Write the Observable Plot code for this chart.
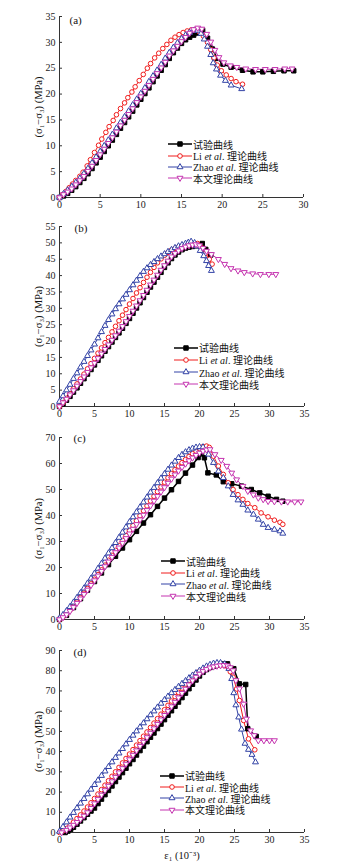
<!DOCTYPE html>
<html><head><meta charset="utf-8">
<script src="https://cdn.jsdelivr.net/npm/d3@7"></script>
<script src="https://cdn.jsdelivr.net/npm/@observablehq/plot@0.6"></script>
<style>
body{margin:0;background:#fff;}
#wrap{position:relative;width:364px;height:868px;overflow:hidden;}
#wrap > svg{display:block;}
.legend{position:absolute;font-family:"Liberation Serif","Noto Sans CJK SC",serif;font-size:10px;color:#111;}
.row{display:flex;align-items:center;white-space:nowrap;}
.row svg{flex:none;margin-right:1px;}
</style></head><body><div id="wrap"></div>
<script>
// ---------- tick labels ----------
const xTicksA = [0,5,10,15,20,25,30];
const xTicksB = [0,5,10,15,20,25,30,35];
const yTicksA = [0,5,10,15,20,25,30,35];
const yTicksB = [0,5,10,15,20,25,30,35,40,45,50,55];
const yTicksC = [0,10,20,30,40,50,60,70];
const yTicksD = [0,10,20,30,40,50,60,70,80,90];
const panelLabels = ["(a)","(b)","(c)","(d)"];
const yLabel = "(σ₁−σ₃) (MPa)";
const xLabel = "ε₁ (10⁻³)";
const seriesNames = ["试验曲线","Li <i>et al</i>. 理论曲线","Zhao <i>et al</i>. 理论曲线","本文理论曲线"];

// ---------- panel (a) ----------
const a_exp = [[0,0],[0.5,0.3],[1,0.8],[1.5,1.4],[2,2.1],[2.5,2.9],[3,3.7],[3.5,4.6],[4,5.6],[4.5,6.7],[5,7.8],[5.5,8.9],[6,10],[6.5,11.1],[7,12.2],[7.5,13.4],[8,14.5],[8.5,15.6],[9,16.7],[9.5,17.9],[10,19],[10.5,20.1],[11,21.2],[11.5,22.4],[12,23.5],[12.5,24.6],[13,25.7],[13.5,26.9],[14,28],[14.5,28.9],[15,29.8],[15.5,30.5],[16,31],[16.5,31.4],[17,31.8],[17.6,32.3],[18.2,30.8],[18.8,28.7],[19.4,26.9],[20.1,25.8],[21.1,25.2],[22.5,24.6],[23.8,24.3],[25,24.3],[26.3,24.4],[27.6,24.5],[28.8,24.5]];
const a_li = [[0,0],[0.4,0.6],[0.8,1.2],[1.2,1.9],[1.6,2.6],[2,3.3],[2.5,4.1],[2.9,4.9],[3.4,6.1],[3.8,7.3],[4.3,8.7],[4.8,10.1],[5.2,11.3],[5.7,12.6],[6.1,13.7],[6.6,14.9],[7,16],[7.5,17.2],[8,18.3],[8.4,19.3],[8.9,20.4],[9.3,21.4],[9.8,22.6],[10.3,23.8],[10.8,25],[11.2,25.9],[11.7,27],[12.2,27.9],[12.7,28.8],[13.2,29.6],[13.7,30.4],[14.2,31],[14.7,31.5],[15.2,31.9],[15.7,32.2],[16.2,32.4],[16.7,32.4],[17.2,32],[17.7,31.2],[18.2,30],[18.6,28.6],[19,27],[19.4,25.6],[19.9,24.5],[20.5,23.7],[21.1,23],[21.7,22.4],[22.5,21.9]];
const a_zhao = [[0,0],[0.5,0.7],[1,1.4],[1.5,2.1],[2,2.9],[2.5,3.7],[3,4.6],[3.5,5.6],[4,6.7],[4.5,7.8],[5,8.9],[5.5,10],[6,11.1],[6.5,12.2],[7,13.4],[7.5,14.5],[8,15.6],[8.5,16.7],[9,17.9],[9.5,19],[10,20.1],[10.5,21.2],[11,22.4],[11.5,23.5],[12,24.6],[12.5,25.7],[13,26.9],[13.5,28],[14,29],[14.5,29.9],[15,30.7],[15.5,31.4],[16,31.9],[16.5,32.3],[17,32.3],[17.4,31.7],[17.8,30.6],[18.2,29.2],[18.6,27.6],[18.9,26],[19.3,24.8],[19.8,23.6],[20.4,22.6],[21.1,21.7],[22.4,21]];
const a_this = [[0,0],[0.5,0.6],[1,1.1],[1.5,1.7],[2,2.5],[2.5,3.3],[3,4.1],[3.5,5.1],[4,6.1],[4.5,7.2],[5,8.3],[5.5,9.4],[6,10.5],[6.5,11.6],[7,12.7],[7.5,13.9],[8,15],[8.5,16.1],[9,17.2],[9.5,18.4],[10,19.5],[10.5,20.6],[11,21.7],[11.5,22.9],[12,24],[12.5,25.1],[13,26.2],[13.5,27.4],[14,28.4],[14.5,29.3],[15,30.2],[15.5,31],[16,31.8],[16.5,32.5],[17,32.8],[17.5,32.6],[18.1,31.6],[18.6,30.1],[19.1,28.5],[19.6,27.1],[20.2,26.1],[21,25.5],[21.8,25.2],[22.9,24.9],[24.1,24.8],[25.3,24.8],[26.5,24.8],[27.7,24.9],[28.6,24.9]];

// ---------- panel (b) ----------
const b_exp = [[0,0],[0.5,0.8],[1,1.9],[1.5,3.1],[2,4.4],[2.5,5.7],[3,7.1],[3.5,8.5],[4,9.9],[4.5,11.3],[5,12.7],[5.5,14.1],[6,15.5],[6.5,16.9],[7,18.3],[7.5,19.7],[8,21.1],[8.5,22.5],[9,23.9],[9.5,25.4],[10,26.9],[10.5,28.5],[11,30.1],[11.5,31.7],[12,33.3],[12.5,34.9],[13,36.5],[13.5,38],[14,39.5],[14.5,41],[15,42.5],[15.5,43.9],[16,45.2],[16.5,46.3],[17,47.2],[17.5,47.9],[18,48.4],[18.5,48.7],[19,48.9],[19.5,49.1],[20,49.4],[20.4,49.8],[20.9,48],[21.6,46.3]];
const b_li = [[0,0],[0.5,1.2],[1,2.5],[1.5,3.9],[2,5.4],[2.5,6.9],[3,8.4],[3.5,9.9],[4,11.5],[4.5,13.1],[5,14.7],[5.5,16.3],[6,17.9],[6.5,19.5],[7,21.1],[7.5,22.8],[8,24.5],[8.5,26.2],[9,27.9],[9.5,29.6],[10,31.3],[10.5,33],[11,34.7],[11.5,36.3],[12,37.9],[12.5,39.5],[13,41],[13.5,42.5],[14,43.9],[14.5,45.1],[15,46.2],[15.5,47.1],[16,47.8],[16.5,48.3],[17,48.7],[17.5,49],[18,49.2],[18.5,49.4],[19,49.6],[19.7,49.8],[20.3,48.5],[20.9,46.8],[21.4,45],[21.8,43.5]];
const b_zhao = [[0,1.5],[0.5,3.2],[1,5],[1.5,6.7],[2,8.5],[2.5,10.2],[3,12],[3.5,13.7],[4,15.5],[4.5,17.2],[5,19],[5.5,20.9],[6,22.8],[6.5,24.7],[7,26.5],[7.5,28.2],[8,29.8],[8.5,31.3],[9,32.8],[9.5,34.2],[10,35.6],[10.5,37.1],[11,38.5],[11.5,39.9],[12,41.2],[12.5,42.3],[13,43.3],[13.5,44.2],[14,45.1],[14.5,45.9],[15,46.6],[15.5,47.3],[16,47.9],[16.5,48.5],[17,49],[17.5,49.4],[18,49.8],[18.4,50.1],[18.8,50.4],[19.3,50],[19.6,49],[20.1,47.6],[20.6,46],[21,44.5],[21.3,43],[21.7,41.5]];
const b_this = [[0,0],[0.5,1.2],[1,2.3],[1.5,3.6],[2,4.9],[2.5,6.3],[3,7.7],[3.5,9.1],[4,10.5],[4.5,11.9],[5,13.3],[5.5,14.7],[6,16.1],[6.5,17.5],[7,18.9],[7.5,20.3],[8,21.7],[8.5,23.1],[9,24.5],[9.5,26],[10,27.6],[10.5,29.2],[11,30.8],[11.5,32.4],[12,34],[12.5,35.6],[13,37.2],[13.5,38.7],[14,40.2],[14.5,41.7],[15,43.1],[15.5,44.5],[16,45.8],[16.5,46.8],[17,47.6],[17.5,48.3],[18,48.8],[18.5,49.2],[19,49.4],[19.5,49.5],[20,49.2],[20.5,48.4],[21,47.5],[21.7,46.5],[22.7,45],[23.6,43.5],[24.5,42.2],[25.5,41.5],[26.4,41],[27.6,40.6],[28.7,40.4],[29.9,40.4],[30.9,40.4]];

// ---------- panel (c) ----------
const c_exp = [[0,0],[1,1.6],[2,4.6],[3,8],[4,11.3],[5,14.6],[6,17.9],[7,21.1],[8,24.3],[9,27.5],[10,30.7],[11,33.9],[12,37.1],[13,40.3],[14,43.5],[15,46.7],[16,49.9],[17,53.1],[18,56.3],[19,59.4],[19.8,62.3],[20.3,63.7],[20.7,62.2],[21.2,56.4],[22.4,55.6],[23.4,53],[24.6,52.2],[26,51.3],[27.4,50],[28.6,48.7],[29.8,47.4],[31,46.2],[31.9,45.5]];
const c_li = [[0,0],[0.5,1],[1,2.2],[1.5,3.6],[2,5.1],[2.5,6.7],[3,8.4],[3.5,10.1],[4,11.9],[4.5,13.7],[5,15.5],[5.5,17.3],[6,19.1],[6.5,20.9],[7,22.8],[7.5,24.7],[8,26.6],[8.5,28.5],[9,30.4],[9.5,32.3],[10,34.2],[10.5,36.1],[11,38],[11.5,39.9],[12,41.8],[12.5,43.7],[13,45.6],[13.5,47.4],[14,49.2],[14.5,51],[15,52.8],[15.5,54.5],[16,56.1],[16.5,57.6],[17,59],[17.5,60.3],[18,61.5],[18.5,62.7],[19,63.8],[19.5,64.8],[20,65.7],[20.5,66.5],[21,66.7],[21.4,66.2],[22,62.8],[22.7,59],[23.4,55.8],[24.1,52.6],[24.8,50],[25.5,48],[26.2,46.2],[26.9,44.6],[27.9,43],[28.8,41],[29.8,39.5],[30.7,38.2],[31.5,37.4],[31.9,36.6]];
const c_zhao = [[0,0.5],[0.5,1.8],[1,3.3],[1.5,4.9],[2,6.6],[2.5,8.4],[3,10.2],[3.5,12],[4,13.9],[4.5,15.8],[5,17.7],[5.5,19.6],[6,21.5],[6.5,23.5],[7,25.5],[7.5,27.5],[8,29.5],[8.5,31.5],[9,33.5],[9.5,35.5],[10,37.5],[10.5,39.4],[11,41.3],[11.5,43.2],[12,45.1],[12.5,47],[13,48.9],[13.5,50.7],[14,52.5],[14.5,54.3],[15,56],[15.5,57.7],[16,59.3],[16.5,60.8],[17,62.2],[17.5,63.4],[18,64.4],[18.5,65.2],[19,65.8],[19.5,66.2],[20,66.4],[20.5,66.3],[21.3,63.5],[22,60.3],[22.7,57],[23.4,54.5],[24.1,51.3],[24.8,48],[25.5,45.9],[26.2,44.2],[26.9,42],[27.7,40.4],[28.4,38.5],[29.1,36.5],[29.8,35.3],[30.7,34.6],[31.5,34],[31.9,33.1]];
const c_this = [[0,0],[0.5,0.8],[1,1.9],[1.5,3.2],[2,4.7],[2.5,6.3],[3,8],[3.5,9.7],[4,11.4],[4.5,13.2],[5,15],[5.5,16.8],[6,18.6],[6.5,20.4],[7,22.2],[7.5,24],[8,25.8],[8.5,27.6],[9,29.4],[9.5,31.2],[10,33],[10.5,34.8],[11,36.6],[11.5,38.4],[12,40.2],[12.5,42],[13,43.8],[13.5,45.6],[14,47.4],[14.5,49.1],[15,50.8],[15.5,52.5],[16,54.1],[16.5,55.7],[17,57.2],[17.5,58.6],[18,59.9],[18.5,61.1],[19,62.2],[19.5,63.2],[20,64.1],[20.5,64.8],[21,65.3],[21.5,65.4],[22.2,63.5],[23.1,61.3],[23.9,59],[24.6,56.4],[25.3,53.8],[26.2,51.3],[26.9,49.4],[27.7,48],[28.4,46.8],[29.1,46.2],[29.8,45.5],[30.7,45.4],[31.7,45.3],[32.6,45.3],[33.6,45.3],[34.5,45.3]];

// ---------- panel (d) ----------
const d_exp = [[0.8,0],[1.2,0.7],[1.6,1.6],[2,2.6],[2.5,4.1],[3,5.7],[3.5,7.3],[4,9],[4.5,10.6],[5,12.1],[5.5,14.3],[6,16.5],[6.5,18.7],[7,20.8],[7.5,23],[8,25.2],[8.5,27.4],[9,29.6],[9.5,31.8],[10,34],[10.5,36.1],[11,38.3],[11.5,40.5],[12,42.7],[12.5,44.9],[13,47.1],[13.5,49.2],[14,51.4],[14.5,53.6],[15,55.8],[15.5,58],[16,60.2],[16.5,62.4],[17,64.5],[17.5,66.7],[18,68.9],[18.5,71.1],[19,73.3],[19.5,75.4],[20,77.4],[20.5,79.2],[21,80.6],[21.5,81.6],[22,82.3],[22.5,82.8],[23,83.1],[23.5,83.3],[24,83.4],[24.9,81],[25.7,73.5],[26.6,73.2],[26.9,51.3],[28.1,47.5]];
const d_li = [[0,0],[0.5,0.8],[1,2],[1.5,3.5],[2,5.1],[2.5,6.9],[3,8.7],[3.5,10.6],[4,12.6],[4.5,14.7],[5,16.8],[5.5,19],[6,21.2],[6.5,23.4],[7,25.6],[7.5,27.8],[8,30],[8.5,32.2],[9,34.4],[9.5,36.6],[10,38.8],[10.5,41],[11,43.2],[11.5,45.4],[12,47.6],[12.5,49.7],[13,51.9],[13.5,54.1],[14,56.3],[14.5,58.5],[15,60.7],[15.5,62.9],[16,65],[16.5,67.2],[17,69.3],[17.5,71.4],[18,73.4],[18.5,75.3],[19,77],[19.5,78.5],[20,79.7],[20.5,80.7],[21,81.5],[21.5,82.1],[22,82.5],[22.5,82.7],[23,82.8],[23.5,82.7],[24,82],[24.4,79.5],[24.8,76.8],[25.3,71],[25.7,65.3],[26.3,55.4],[27,46.3],[27.9,40.9]];
const d_zhao = [[0,0.5],[0.5,2.8],[1,5.1],[1.5,7.5],[2,9.8],[2.5,12.1],[3,14.4],[3.5,16.7],[4,19],[4.5,21.3],[5,23.6],[5.5,25.8],[6,28.1],[6.5,30.3],[7,32.5],[7.5,34.8],[8,37],[8.5,39.2],[9,41.4],[9.5,43.7],[10,45.9],[10.5,48],[11,50.1],[11.5,52.1],[12,54.1],[12.5,56.1],[13,58.1],[13.5,60],[14,61.9],[14.5,63.8],[15,65.6],[15.5,67.3],[16,69],[16.5,70.6],[17,72.1],[17.5,73.6],[18,75],[18.5,76.4],[19,77.7],[19.5,78.9],[20,80.1],[20.5,81.2],[21,82.2],[21.5,83],[22,83.6],[22.5,83.9],[23,83.9],[23.6,83.3],[24.2,81],[24.6,76],[24.9,69],[25.2,63],[25.6,57],[26,51],[26.5,44],[27,41],[27.5,38.5],[28,34.8]];
const d_this = [[0.3,0],[1,1.2],[1.5,2.4],[2,3.7],[2.5,5.1],[3,6.6],[3.5,8.2],[4,9.9],[4.5,12],[5,14.3],[5.5,16.4],[6,18.6],[6.5,20.8],[7,23],[7.5,25.2],[8,27.4],[8.5,29.6],[9,31.7],[9.5,33.9],[10,36.1],[10.5,38.3],[11,40.5],[11.5,42.7],[12,44.8],[12.5,47],[13,49.2],[13.5,51.4],[14,53.6],[14.5,55.8],[15,58],[15.5,60.1],[16,62.3],[16.5,64.5],[17,66.7],[17.5,68.9],[18,71],[18.5,73.1],[19,75.1],[19.5,76.9],[20,78.4],[20.5,79.7],[21,80.7],[21.5,81.5],[22,82],[22.5,82.4],[23,82.6],[23.5,82.7],[24,82.5],[24.4,81.6],[24.8,80.1],[25.2,75.2],[25.7,71.1],[26.3,63.6],[26.7,56.2],[27.3,50.4],[27.8,48],[28.4,45.5],[29.2,45.5],[30,45.5],[30.7,45.5]];

// ---------- styling ----------
const seriesStyle = [
  {stroke:"#000000", fill:"#000000", symbol:"square",   r:2.5, lw:1.5, rotate:0},
  {stroke:"#f01c1c", fill:"#ffffff", symbol:"circle",   r:2.3, lw:1,   rotate:0},
  {stroke:"#3343a6", fill:"#ffffff", symbol:"triangle", r:2.2, lw:1,   rotate:0},
  {stroke:"#c534b0", fill:"#ffffff", symbol:"triangle", r:2.2, lw:1,   rotate:180}
];

const panels = [
  {data:[a_exp,a_li,a_zhao,a_this], xd:[0,30], xt:xTicksA, yd:[0,35], yt:yTicksA, h:211, mt:16, mb:14, mr:61, ldx:10, ldy:0, lg:{left:168, top:138.5, row:11.4}, xlab:false},
  {data:[b_exp,b_li,b_zhao,b_this], xd:[0,35], xt:xTicksB, yd:[0,55], yt:yTicksB, h:211, mt:15, mb:16, mr:60, ldx:15, ldy:-2, lg:{left:174, top:341.6, row:12.2}, xlab:false},
  {data:[c_exp,c_li,c_zhao,c_this], xd:[0,35], xt:xTicksB, yd:[0,70], yt:yTicksC, h:212, mt:15, mb:15, mr:60, ldx:14, ldy:-3, lg:{left:161, top:555.2, row:11.7}, xlab:false},
  {data:[d_exp,d_li,d_zhao,d_this], xd:[0,35], xt:xTicksB, yd:[0,90], yt:yTicksD, h:234, mt:16, mb:36, mr:60, ldx:14, ldy:-2, lg:{left:160, top:770, row:11.4}, xlab:true}
];

const wrap = document.getElementById("wrap");
const W = 364, ML = 59;
const axisColor = "#333";

panels.forEach((p, i) => {
  const plotW = W - ML - p.mr;
  const plotH = p.h - p.mt - p.mb;
  const marks = [
    Plot.axisX({ticks:p.xt, tickSize:0, tickPadding:3, label:null, tickFormat:d=>d}),
    Plot.axisY({ticks:p.yt, tickSize:0, tickPadding:4, label:null, tickFormat:d=>d}),
    Plot.tickX(p.xt, {insetTop:plotH-3, stroke:axisColor}),
    Plot.tickY(p.yt, {insetRight:plotW-3, stroke:axisColor}),
    Plot.ruleX([p.xd[0]], {stroke:axisColor}),
    Plot.ruleY([p.yd[0]], {stroke:axisColor})
  ];
  p.data.forEach((s, k) => {
    const st = seriesStyle[k];
    marks.push(Plot.line(s, {x:d=>d[0], y:d=>d[1], stroke:st.stroke, strokeWidth:st.lw}));
  });
  p.data.forEach((s, k) => {
    const st = seriesStyle[k];
    marks.push(Plot.dot(s, {x:d=>d[0], y:d=>d[1], symbol:st.symbol, r:st.r, stroke:st.stroke, fill:st.fill, strokeWidth:1, rotate:st.rotate}));
  });
  marks.push(Plot.text([panelLabels[i]], {frameAnchor:"top-left", dx:p.ldx, dy:p.ldy, fontSize:11, fill:"#111"}));
  marks.push(Plot.text([yLabel], {frameAnchor:"left", dx:-21, rotate:-90, textAnchor:"middle", lineAnchor:"middle", fontSize:10.5, fill:"#111"}));
  if (p.xlab) marks.push(Plot.text([xLabel], {frameAnchor:"bottom", dy:23, textAnchor:"middle", lineAnchor:"middle", fontSize:10.5, fill:"#111"}));

  const svg = Plot.plot({
    width: W, height: p.h,
    marginLeft: ML, marginRight: p.mr, marginTop: p.mt, marginBottom: p.mb,
    x: {domain: p.xd},
    y: {domain: p.yd},
    style: {fontFamily: '"Liberation Serif", serif', fontSize: "10px", color: "#222", background: "#fff", overflow: "visible"},
    marks
  });
  wrap.appendChild(svg);

  // legend (HTML overlay)
  const lg = document.createElement("div");
  lg.className = "legend";
  lg.style.left = p.lg.left + "px";
  lg.style.top = p.lg.top + "px";
  seriesNames.forEach((name, k) => {
    const st = seriesStyle[k];
    const row = document.createElement("div");
    row.className = "row";
    row.style.height = p.lg.row + "px";
    const sw = d3.create("svg").attr("width", 24).attr("height", 10);
    sw.append("line").attr("x1", 0).attr("x2", 24).attr("y1", 5).attr("y2", 5)
      .attr("stroke", st.stroke).attr("stroke-width", st.lw);
    const symType = st.symbol === "square" ? d3.symbolSquare : st.symbol === "circle" ? d3.symbolCircle : d3.symbolTriangle;
    sw.append("path").attr("d", d3.symbol(symType, Math.PI * st.r * st.r)())
      .attr("transform", `translate(12,5) rotate(${st.rotate})`)
      .attr("fill", st.fill).attr("stroke", st.stroke).attr("stroke-width", 1);
    row.appendChild(sw.node());
    const t = document.createElement("span");
    t.innerHTML = name;
    row.appendChild(t);
    lg.appendChild(row);
  });
  wrap.appendChild(lg);
});
</script></body></html>
